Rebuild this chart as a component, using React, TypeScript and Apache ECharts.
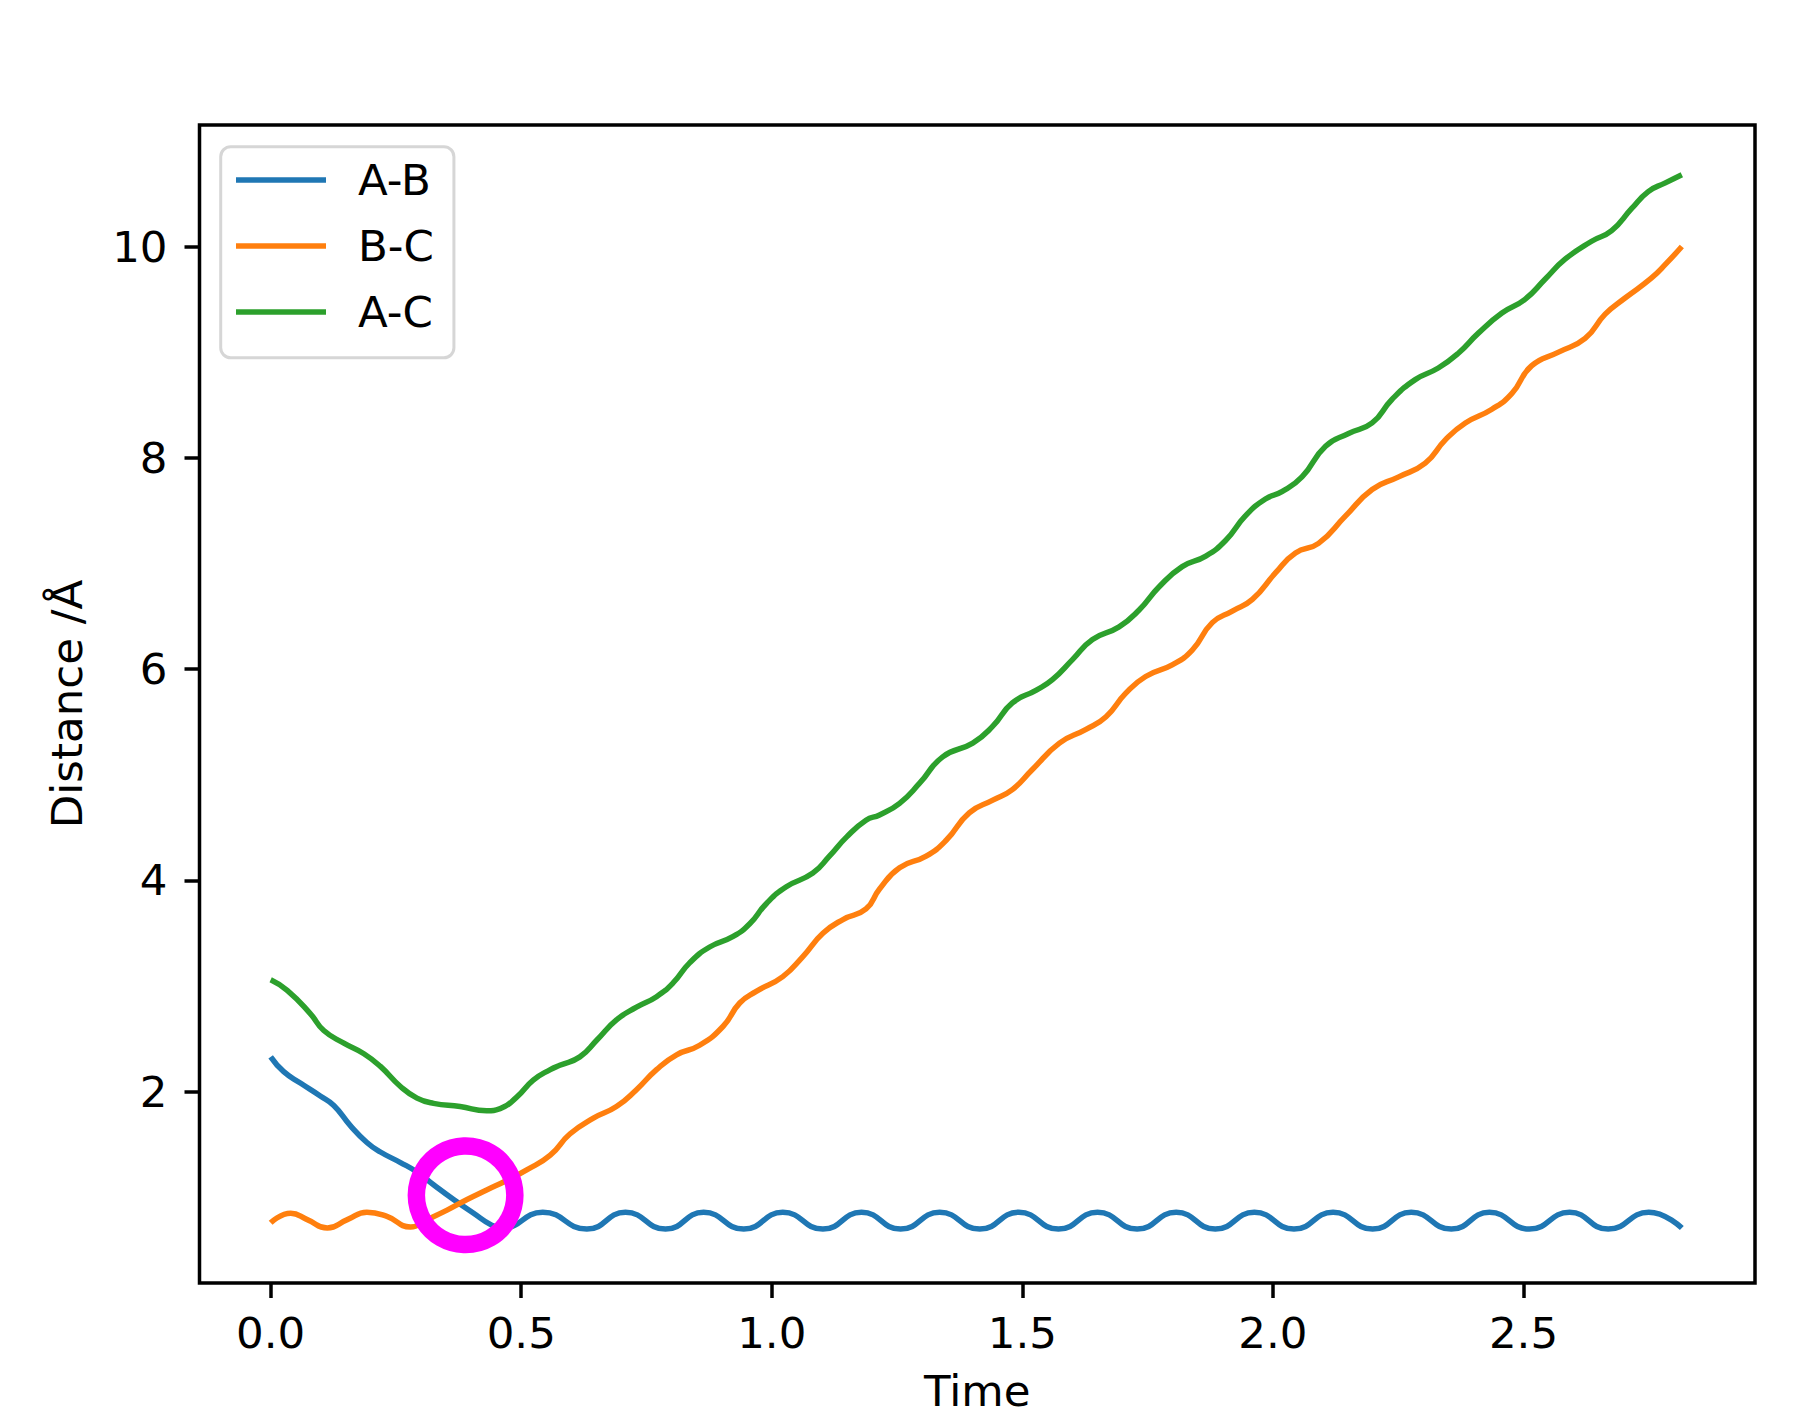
import React, { useEffect, useRef } from "react";
import * as echarts from "echarts";

// Series names (legend order)
const seriesNames = ["A-B", "B-C", "A-C"];
const seriesColors = ["#1f77b4", "#ff7f0e", "#2ca02c"];

// Tick values
const xTicks = [0, 0.5, 1.0, 1.5, 2.0, 2.5];
const yTicks = [2, 4, 6, 8, 10];

// A-B distance [time, Å]
const abData = [
  [0.0, 2.33], [0.026, 2.19], [0.06, 2.08], [0.099, 1.96], [0.126, 1.87],
  [0.159, 1.68], [0.192, 1.52], [0.219, 1.43], [0.259, 1.33], [0.292, 1.24],
  [0.325, 1.12], [0.365, 0.98], [0.405, 0.85], [0.44, 0.74], [0.462, 0.71],
  [0.543, 0.86], [0.631, 0.7], [0.708, 0.86], [0.788, 0.7], [0.864, 0.86],
  [0.944, 0.7], [1.022, 0.86], [1.102, 0.7], [1.179, 0.86], [1.257, 0.7],
  [1.335, 0.86], [1.415, 0.7], [1.493, 0.86], [1.572, 0.7], [1.65, 0.86],
  [1.729, 0.7], [1.807, 0.86], [1.885, 0.7], [1.963, 0.86], [2.042, 0.7],
  [2.12, 0.86], [2.199, 0.7], [2.276, 0.86], [2.356, 0.7], [2.432, 0.86],
  [2.512, 0.7], [2.592, 0.86], [2.669, 0.7], [2.75, 0.86], [2.816, 0.71],
];

// B-C distance [time, Å]
const bcData = [
  [0.0, 0.76], [0.04, 0.85], [0.073, 0.79], [0.113, 0.71], [0.153, 0.79],
  [0.192, 0.86], [0.232, 0.82], [0.279, 0.72], [0.312, 0.79], [0.352, 0.88],
  [0.392, 0.98], [0.431, 1.07], [0.471, 1.16], [0.511, 1.26], [0.558, 1.4],
  [0.597, 1.6], [0.644, 1.75], [0.69, 1.86], [0.73, 2.02], [0.77, 2.21],
  [0.81, 2.35], [0.856, 2.44], [0.903, 2.62], [0.936, 2.84], [0.969, 2.95],
  [1.022, 3.09], [1.062, 3.28], [1.102, 3.5], [1.142, 3.63], [1.188, 3.73],
  [1.215, 3.92], [1.255, 4.12], [1.308, 4.23], [1.348, 4.38], [1.394, 4.64],
  [1.441, 4.76], [1.48, 4.86], [1.52, 5.05], [1.574, 5.3], [1.627, 5.43],
  [1.667, 5.55], [1.706, 5.77], [1.746, 5.93], [1.799, 6.04], [1.839, 6.18],
  [1.879, 6.44], [1.919, 6.55], [1.959, 6.66], [2.005, 6.91], [2.045, 7.1],
  [2.091, 7.19], [2.145, 7.45], [2.198, 7.7], [2.251, 7.82], [2.304, 7.95],
  [2.344, 8.17], [2.384, 8.33], [2.437, 8.46], [2.477, 8.61], [2.516, 8.87],
  [2.57, 9.0], [2.623, 9.13], [2.663, 9.36], [2.702, 9.51], [2.755, 9.7],
  [2.785, 9.84], [2.816, 10.0],
];

// A-C distance [time, Å]
const acData = [
  [0.0, 3.06], [0.033, 2.96], [0.079, 2.74], [0.106, 2.58], [0.146, 2.46],
  [0.186, 2.36], [0.219, 2.24], [0.259, 2.05], [0.292, 1.94], [0.325, 1.89],
  [0.378, 1.86], [0.431, 1.82], [0.458, 1.84], [0.491, 1.95], [0.524, 2.11],
  [0.558, 2.21], [0.577, 2.25], [0.617, 2.33], [0.651, 2.49], [0.69, 2.68],
  [0.73, 2.8], [0.77, 2.9], [0.803, 3.03], [0.836, 3.22], [0.876, 3.37],
  [0.923, 3.47], [0.956, 3.59], [0.989, 3.78], [1.029, 3.94], [1.082, 4.07],
  [1.115, 4.23], [1.149, 4.41], [1.188, 4.57], [1.215, 4.62], [1.255, 4.73],
  [1.295, 4.92], [1.341, 5.17], [1.401, 5.3], [1.441, 5.46], [1.48, 5.68],
  [1.527, 5.8], [1.56, 5.9], [1.6, 6.09], [1.64, 6.28], [1.693, 6.4],
  [1.733, 6.56], [1.773, 6.78], [1.819, 6.97], [1.866, 7.07], [1.906, 7.22],
  [1.945, 7.45], [1.985, 7.61], [2.018, 7.68], [2.058, 7.82], [2.105, 8.11],
  [2.151, 8.23], [2.198, 8.33], [2.237, 8.55], [2.284, 8.74], [2.33, 8.85],
  [2.37, 8.99], [2.41, 9.18], [2.457, 9.37], [2.503, 9.5], [2.543, 9.69],
  [2.583, 9.88], [2.636, 10.05], [2.676, 10.15], [2.716, 10.36], [2.749, 10.52],
  [2.782, 10.6], [2.816, 10.68],
];

// Highlighted crossing point (annotation circle)
const crossingPoint = [[0.389, 1.02]];

export default function App() {
  const ref = useRef<HTMLDivElement>(null);

  useEffect(() => {
    const chart = echarts.init(ref.current!, null, { renderer: "svg" });
    const font = "DejaVu Sans";
    const fs = 43.5;
    const dataSets = [abData, bcData, acData];

    chart.setOption({
      animation: false,
      backgroundColor: "#ffffff",
      color: seriesColors,
      grid: {
        left: 199.5,
        right: 47,
        top: 125,
        bottom: 144,
        show: true,
        borderColor: "#000000",
        borderWidth: 3.5,
        backgroundColor: "transparent",
      },
      xAxis: {
        type: "value",
        min: -0.142,
        max: 2.962,
        name: "Time",
        nameLocation: "middle",
        nameGap: 86,
        nameTextStyle: { fontFamily: font, fontSize: fs, color: "#000" },
        axisLine: { show: false, onZero: false },
        splitLine: { show: false },
        axisTick: {
          show: true,
          length: 15,
          customValues: xTicks,
          lineStyle: { color: "#000", width: 3.5 },
        },
        axisLabel: {
          customValues: xTicks,
          formatter: (v: number) => v.toFixed(1),
          margin: 28,
          fontFamily: font,
          fontSize: fs,
          color: "#000",
        },
      },
      yAxis: {
        type: "value",
        min: 0.19,
        max: 11.15,
        name: "Distance /Å",
        nameLocation: "middle",
        nameGap: 110.5,
        nameRotate: 90,
        nameTextStyle: { fontFamily: font, fontSize: fs, color: "#000" },
        axisLine: { show: false, onZero: false },
        splitLine: { show: false },
        axisTick: {
          show: true,
          length: 15,
          customValues: yTicks,
          lineStyle: { color: "#000", width: 3.5 },
        },
        axisLabel: {
          customValues: yTicks,
          formatter: (v: number) => String(v),
          margin: 32,
          fontFamily: font,
          fontSize: fs,
          color: "#000",
        },
      },
      legend: {
        data: seriesNames,
        orient: "vertical",
        left: 220.7,
        top: 146.7,
        padding: [8.3, 20, 20.8, 15.3],
        itemWidth: 90,
        itemHeight: 5.5,
        itemGap: 16,
        icon: "rect",
        selectedMode: false,
        backgroundColor: "rgba(255,255,255,0.8)",
        borderColor: "#d6d6d6",
        borderWidth: 3,
        borderRadius: 10,
        textStyle: {
          fontFamily: font,
          fontSize: fs,
          color: "#000",
          lineHeight: 50,
          padding: [0, 0, 0, 27],
        },
      },
      series: [
        ...seriesNames.map((name, i) => ({
          type: "line",
          name,
          data: dataSets[i],
          showSymbol: false,
          smooth: 0.5,
          lineStyle: { width: 5.5, color: seriesColors[i] },
          itemStyle: { color: seriesColors[i] },
          z: 3 + i,
        })),
        {
          type: "scatter",
          name: "highlight",
          data: crossingPoint,
          symbol: "circle",
          symbolSize: 98.5,
          silent: true,
          itemStyle: {
            color: "rgba(0,0,0,0)",
            borderColor: "#ff00ff",
            borderWidth: 17.5,
            opacity: 1,
          },
          z: 10,
        },
      ],
    });

    return () => {
      chart.dispose();
    };
  }, []);

  return (
    <div
      ref={ref}
      style={{ position: "fixed", left: 0, top: 0, width: 1802, height: 1427 }}
    />
  );
}
